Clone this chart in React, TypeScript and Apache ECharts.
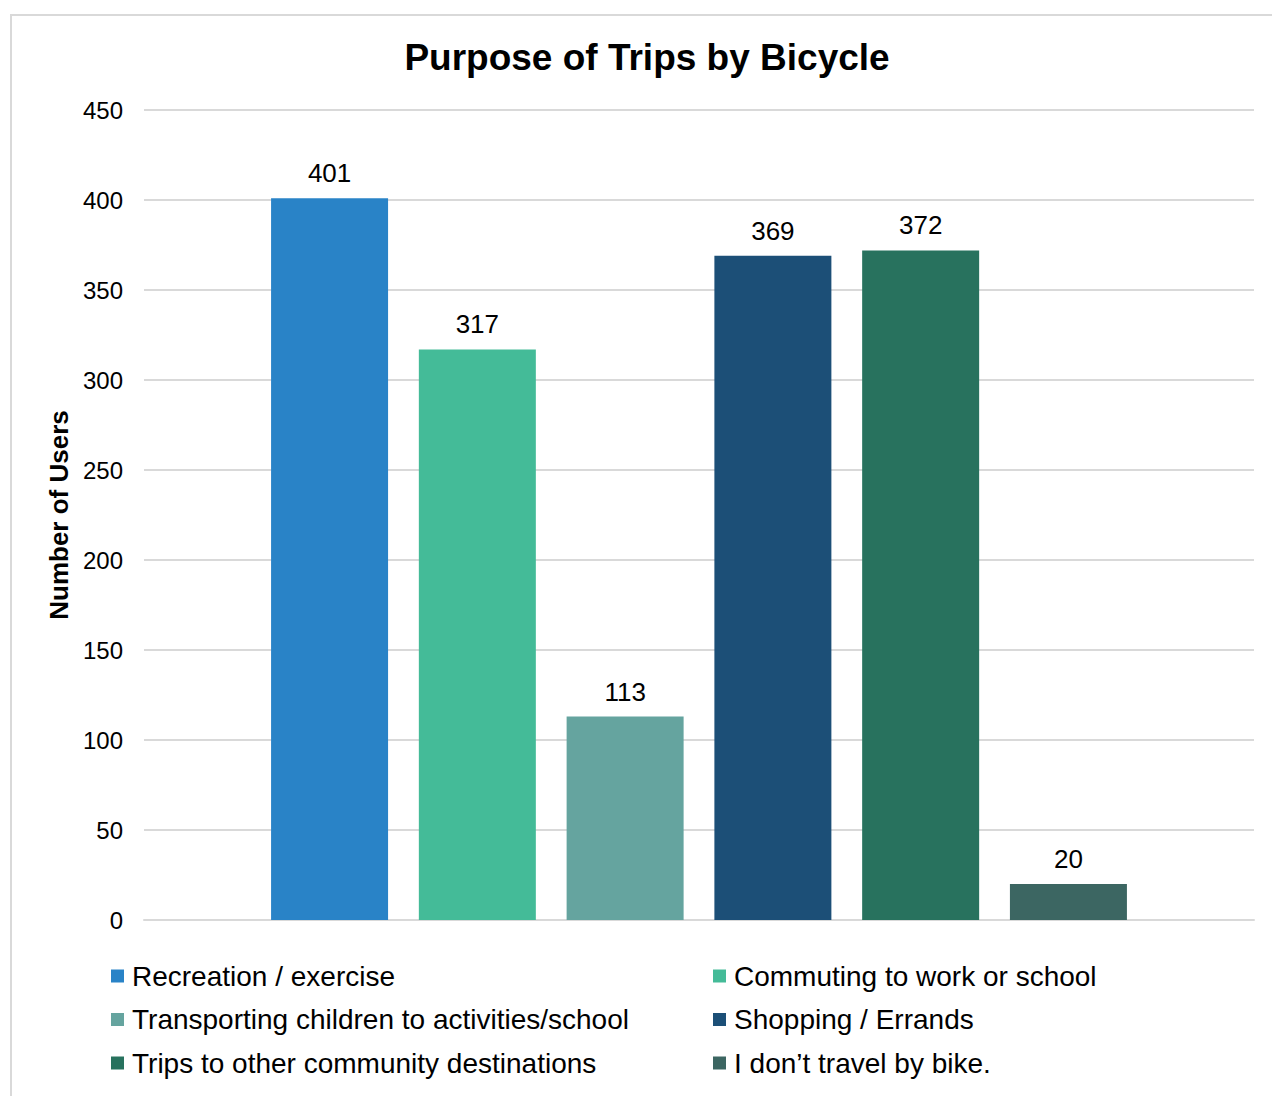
import React, { useEffect, useRef } from "react";
import * as echarts from "echarts";

const seriesNames = [
  "Recreation / exercise",
  "Commuting to work or school",
  "Transporting children to activities/school",
  "Shopping / Errands",
  "Trips to other community destinations",
  "I don’t travel by bike.",
];
const seriesValues = [401, 317, 113, 369, 372, 20];
const seriesColors = ["#2983c7", "#44bb98", "#65a49f", "#1c4f77", "#28725e", "#3c6662"];
const categories = [""];
const yTicks = { min: 0, max: 450, interval: 50 };

const FONT = "'Liberation Sans', Arial, sans-serif";

export default function App() {
  const ref = useRef<HTMLDivElement>(null);
  useEffect(() => {
    if (!ref.current) return;
    const chart = echarts.init(ref.current, null, { renderer: "svg" });
    const series = seriesNames.map((name, i) => ({
      name,
      type: "bar",
      data: [seriesValues[i]],
      barWidth: 117,
      barGap: "26.3%",
      itemStyle: { color: seriesColors[i] },
      label: {
        show: true,
        position: "top",
        distance: 12,
        color: "#000",
        fontSize: 26,
        fontFamily: FONT,
      },
    }));
    const legendCommon = {
      orient: "vertical",
      icon: "rect",
      itemWidth: 13,
      itemHeight: 13,
      itemGap: 13.5,
      padding: 0,
      top: 961,
      textStyle: {
        color: "#000",
        fontSize: 28,
        fontFamily: FONT,
        lineHeight: 30,
        padding: [0, 0, 0, 3],
      },
      selectedMode: false,
    };
    chart.setOption({
      animation: false,
      backgroundColor: "#fff",
      textStyle: { fontFamily: FONT },
      title: {
        text: "Purpose of Trips by Bicycle",
        left: 642,
        textAlign: "center",
        top: 34,
        textStyle: { fontSize: 37, fontWeight: "bold", color: "#000", fontFamily: FONT },
      },
      graphic: [
        {
          type: "rect",
          shape: { x: 11, y: 15, width: 1300, height: 1200 },
          style: { fill: "none", stroke: "#d9d9d9", lineWidth: 2 },
          silent: true,
          z: -1,
        },
      ],
      legend: [
        { ...legendCommon, left: 111, data: [seriesNames[0], seriesNames[2], seriesNames[4]] },
        { ...legendCommon, left: 713, data: [seriesNames[1], seriesNames[3], seriesNames[5]] },
      ],
      grid: { left: 144, right: 18, top: 110, bottom: 176, containLabel: false },
      xAxis: {
        type: "category",
        data: categories,
        axisLine: { show: true, lineStyle: { color: "#d9d9d9", width: 2 } },
        axisTick: { show: false },
        axisLabel: { show: false },
      },
      yAxis: {
        type: "value",
        min: yTicks.min,
        max: yTicks.max,
        interval: yTicks.interval,
        name: "Number of Users",
        nameLocation: "middle",
        nameGap: 71,
        nameTextStyle: { fontSize: 26, fontWeight: "bold", color: "#000", fontFamily: FONT },
        axisLine: { show: false },
        axisTick: { show: false },
        axisLabel: { fontSize: 24, color: "#000", margin: 21, fontFamily: FONT },
        splitLine: { lineStyle: { color: "#d9d9d9", width: 2 } },
      },
      series,
    });
    return () => chart.dispose();
  }, []);
  return (
    <div
      ref={ref}
      style={{ position: "fixed", left: 0, top: 0, width: 1272, height: 1096 }}
    />
  );
}
